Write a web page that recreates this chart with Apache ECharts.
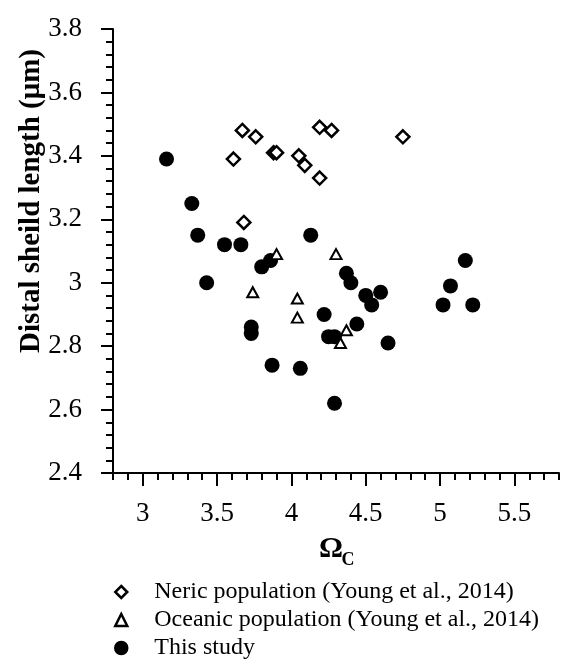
<!DOCTYPE html>
<html>
<head>
<meta charset="utf-8">
<script src="https://cdn.jsdelivr.net/npm/echarts@6/dist/echarts.min.js"></script>
<style>
html,body{margin:0;padding:0;background:#fff;}
#chart{width:562px;height:671px;}
</style>
</head>
<body>
<div id="chart"></div>
<script>
// ---- data ----
const thisStudyX = [3.16, 3.33, 3.37, 3.43, 3.55, 3.66, 3.73, 3.73, 3.80, 3.86, 3.87, 4.06, 4.13, 4.22, 4.25, 4.29, 4.29, 4.37, 4.40, 4.44, 4.50, 4.54, 4.60, 4.65, 5.02, 5.07, 5.17, 5.22];
const thisStudyY = [3.39, 3.25, 3.15, 3.00, 3.12, 3.12, 2.86, 2.84, 3.05, 3.07, 2.74, 2.73, 3.15, 2.90, 2.83, 2.83, 2.62, 3.03, 3.00, 2.87, 2.96, 2.93, 2.97, 2.81, 2.93, 2.99, 3.07, 2.93];
const nericX = [3.61, 3.67, 3.76, 3.68, 3.88, 3.90, 4.05, 4.09, 4.19, 4.27, 4.19, 4.75];
const nericY = [3.39, 3.48, 3.46, 3.19, 3.41, 3.41, 3.40, 3.37, 3.49, 3.48, 3.33, 3.46];
const oceanicX = [3.74, 3.90, 4.04, 4.04, 4.30, 4.37, 4.33];
const oceanicY = [2.97, 3.09, 2.95, 2.89, 3.09, 2.85, 2.81];
const xTickLabels = [3, 3.5, 4, 4.5, 5, 5.5];
const seriesNames = ['Neric population (Young et al., 2014)', 'Oceanic population (Young et al., 2014)', 'This study'];
const yTitle = 'Distal sheild length (\u03bcm)';

const FONT = '"Liberation Serif", "Times New Roman", serif';
const zip = (xs, ys) => xs.map((x, i) => [x, ys[i]]);

const chart = echarts.init(document.getElementById('chart'), null, {renderer: 'canvas'});
chart.setOption({
  animation: false,
  backgroundColor: '#fff',
  grid: {left: 113, right: 3, top: 29, bottom: 198, containLabel: false, outerBoundsMode: 'none'},
  xAxis: [{
    type: 'value', min: 2.8, max: 5.8, interval: 0.1,
    axisLine: {show: true, onZero: false, lineStyle: {color: '#000', width: 2}},
    axisTick: {show: true, length: 7, lineStyle: {color: '#000', width: 2}},
    axisLabel: {customValues: xTickLabels, margin: 27, color: '#000', fontSize: 27, fontFamily: FONT},
    splitLine: {show: false}
  }, {
    type: 'value', min: 2.8, max: 5.8, position: 'bottom', gridIndex: 0,
    axisLine: {show: false},
    axisTick: {show: true, customValues: xTickLabels, length: 13, lineStyle: {color: '#000', width: 2}},
    axisLabel: {show: false},
    splitLine: {show: false}
  }],
  yAxis: {
    type: 'value', min: 2.4, max: 3.8, interval: 0.2,
    axisLine: {show: true, onZero: false, lineStyle: {color: '#000', width: 2}},
    axisTick: {show: true, length: 12, lineStyle: {color: '#000', width: 2}},
    minorTick: {show: true, splitNumber: 5, length: 7, lineStyle: {color: '#000', width: 2}},
    axisLabel: {margin: 31, color: '#000', fontSize: 27, fontFamily: FONT},
    splitLine: {show: false}, minorSplitLine: {show: false}
  },
  legend: {
    orient: 'vertical', left: 114, top: 579, padding: 0, itemWidth: 12, itemHeight: 12, itemGap: 2,
    data: seriesNames,
    itemStyle: {borderWidth: 2.5},
    formatter: name => '{g|}{t|' + name + '}',
    textStyle: {color: '#000', fontSize: 24, fontFamily: FONT, lineHeight: 26,
      rich: {g: {width: 22}, t: {color: '#000', fontSize: 24, fontFamily: FONT, lineHeight: 26}}}
  },
  graphic: [
    {type: 'text', x: 32, y: 201, rotation: Math.PI / 2,
     style: {text: yTitle, font: 'bold 29px ' + FONT, fill: '#000', align: 'center', verticalAlign: 'middle'}},
    {type: 'text', x: 331, y: 549,
     style: {text: '\u03a9', font: 'bold 30px ' + FONT, fill: '#000', align: 'center', verticalAlign: 'middle'}},
    {type: 'text', x: 348, y: 560,
     style: {text: 'C', font: 'bold 18px ' + FONT, fill: '#000', align: 'center', verticalAlign: 'middle'}}
  ],
  series: [
    {name: seriesNames[2], type: 'scatter', data: zip(thisStudyX, thisStudyY), symbol: 'circle', symbolSize: 15,
     itemStyle: {color: '#000', borderColor: '#000', borderWidth: 0, opacity: 1}},
    {name: seriesNames[1], type: 'scatter', data: zip(oceanicX, oceanicY), symbol: 'triangle', symbolSize: [11, 10],
     itemStyle: {color: '#fff', borderColor: '#000', borderWidth: 2, opacity: 1}},
    {name: seriesNames[0], type: 'scatter', data: zip(nericX, nericY), symbol: 'diamond', symbolSize: 13,
     itemStyle: {color: '#fff', borderColor: '#000', borderWidth: 2.5, opacity: 1}}
  ]
});
</script>
</body>
</html>
